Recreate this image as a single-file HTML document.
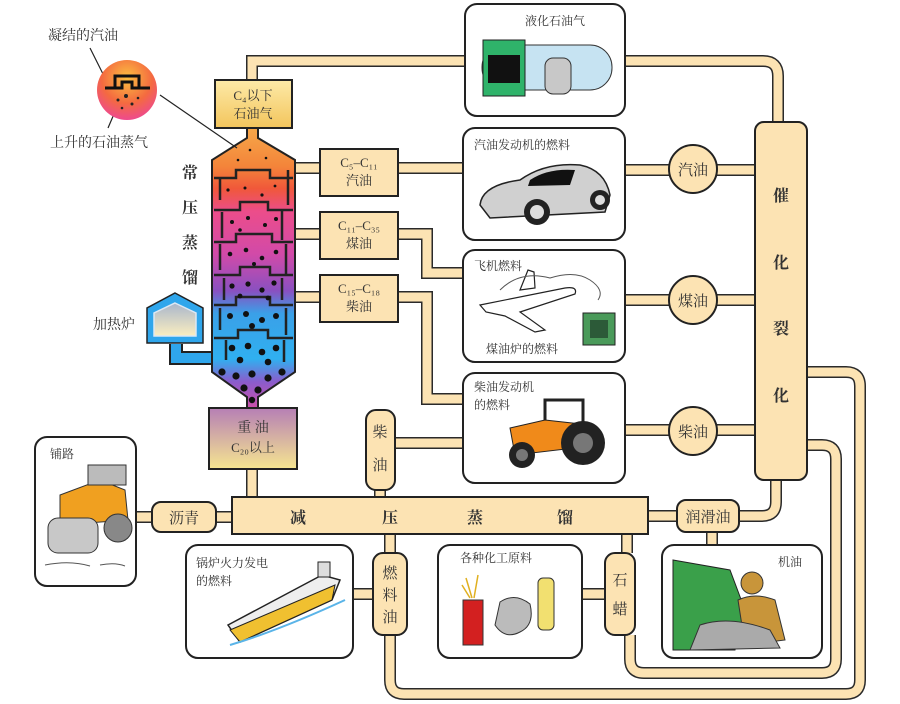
<!DOCTYPE html>
<html><head><meta charset="utf-8"><style>
html,body{margin:0;padding:0;background:#fff;}
svg{display:block;}
text{font-family:"Liberation Serif","Noto Serif CJK SC","Noto Sans CJK SC",serif;fill:#333;}
.b{font-family:"Liberation Sans","Noto Sans CJK SC",sans-serif;font-weight:bold;fill:#222;}
</style></head><body>
<svg width="900" height="704" viewBox="0 0 900 704" xmlns="http://www.w3.org/2000/svg">
<defs>
<linearGradient id="tw" x1="0" y1="0" x2="0" y2="1">
<stop offset="0" stop-color="#f6a94a"/><stop offset="0.14" stop-color="#f4853a"/>
<stop offset="0.22" stop-color="#f0583a"/><stop offset="0.3" stop-color="#ec4d8a"/>
<stop offset="0.45" stop-color="#d24aa8"/><stop offset="0.58" stop-color="#8a50c0"/>
<stop offset="0.66" stop-color="#3aa0e8"/><stop offset="0.82" stop-color="#30b0f0"/>
<stop offset="0.9" stop-color="#8a5ccc"/><stop offset="1" stop-color="#d050a8"/>
</linearGradient>
<linearGradient id="c4" x1="0" y1="0" x2="0" y2="1"><stop offset="0" stop-color="#fdeaa8"/><stop offset="1" stop-color="#f3c55c"/></linearGradient>
<linearGradient id="zy" x1="0" y1="0" x2="0" y2="1"><stop offset="0" stop-color="#b67fb5"/><stop offset="1" stop-color="#f6e690"/></linearGradient>
<linearGradient id="fur" x1="0" y1="0" x2="0" y2="1"><stop offset="0" stop-color="#a9b6cc"/><stop offset="1" stop-color="#fbeec0"/></linearGradient>
<radialGradient id="mag" cx="0.5" cy="0.3" r="0.7"><stop offset="0" stop-color="#fbc040"/><stop offset="0.6" stop-color="#f46a40"/><stop offset="1" stop-color="#ee4a8e"/></radialGradient>
</defs>

<!-- pipes outline -->
<g fill="none" stroke="#2a2a2a" stroke-width="12">
<path d="M252,80 V61 H465"/>
<path d="M625,61 H763 Q778,61 778,76 V122"/>
<path d="M295,168 H320 M398,168 H463"/>
<path d="M295,234 H320 M398,234 H427 V273 H463"/>
<path d="M295,297 H320 M398,297 H427 V399 H463"/>
<path d="M625,170 H755 M625,300 H755 M625,430 H755"/>
<path d="M776,480 V502 Q776,516 762,516 H739"/>
<path d="M807,372 H846 Q860,372 860,386 V680 Q860,694 846,694 H404 Q390,694 390,680 V635"/>
<path d="M807,445 H822 Q836,445 836,459 V659 Q836,673 822,673 H644 Q630,673 630,659 V635"/>
<path d="M252,469 V497"/>
<path d="M380,490 V497 M395,443 H463"/>
<path d="M390,534 V553 M373,594 H353"/>
<path d="M627,534 V553 M605,594 H582"/>
<path d="M136,517 H152 M216,517 H232"/>
<path d="M648,516 H677 M712,532 V545"/>
</g>
<g fill="none" stroke="#fce3b3" stroke-width="9">
<path d="M252,80 V61 H465"/>
<path d="M625,61 H763 Q778,61 778,76 V122"/>
<path d="M295,168 H320 M398,168 H463"/>
<path d="M295,234 H320 M398,234 H427 V273 H463"/>
<path d="M295,297 H320 M398,297 H427 V399 H463"/>
<path d="M625,170 H755 M625,300 H755 M625,430 H755"/>
<path d="M776,480 V502 Q776,516 762,516 H739"/>
<path d="M807,372 H846 Q860,372 860,386 V680 Q860,694 846,694 H404 Q390,694 390,680 V635"/>
<path d="M807,445 H822 Q836,445 836,459 V659 Q836,673 822,673 H644 Q630,673 630,659 V635"/>
<path d="M252,469 V497"/>
<path d="M380,490 V497 M395,443 H463"/>
<path d="M390,534 V553 M373,594 H353"/>
<path d="M627,534 V553 M605,594 H582"/>
<path d="M136,517 H152 M216,517 H232"/>
<path d="M648,516 H677 M712,532 V545"/>
</g>

<!-- furnace -->
<path d="M176,344 V358 H214" fill="none" stroke="#222" stroke-width="14"/>
<path d="M176,344 V358 H214" fill="none" stroke="#2fa6ec" stroke-width="10"/>
<polygon points="175,293 203,308 203,343 147,343 147,308" fill="#2fa6ec" stroke="#222" stroke-width="1.5"/>
<polygon points="175,303 196,313 196,336 154,336 154,313" fill="url(#fur)" stroke="#dce8f4" stroke-width="1.5"/>
<text x="93" y="329" font-size="14">加热炉</text>

<!-- tower -->
<polygon points="247,126 258,126 258,138 295,160 295,372 258,397 258,410 247,410 247,397 212,372 212,160 247,138" fill="url(#tw)" stroke="#222" stroke-width="2"/>
<g stroke="#222" stroke-width="2.5" fill="none">
<path d="M214,178 H236 V170 H270 V178 H293"/><path d="M220,178 V200 M288,170 V205"/>
<path d="M214,210 H240 V202 H268 V210 H293"/><path d="M222,212 V238 M282,210 V240"/>
<path d="M214,242 H236 V234 H272 V242 H293"/><path d="M220,244 V270 M286,244 V275"/>
<path d="M214,275 H240 V267 H270 V275 H293"/><path d="M224,278 V300 M282,278 V300"/>
<path d="M214,305 H236 V297 H270 V305 H293"/><path d="M220,308 V330 M286,308 V335"/>
<path d="M214,338 H238 V330 H268 V338 H293"/><path d="M226,340 V360 M284,340 V362"/>
</g>
<g fill="#111">
<circle cx="228" cy="190" r="1.6"/><circle cx="245" cy="188" r="1.5"/><circle cx="262" cy="195" r="1.6"/><circle cx="275" cy="186" r="1.4"/><circle cx="250" cy="150" r="1.3"/><circle cx="266" cy="158" r="1.3"/><circle cx="238" cy="160" r="1.3"/>
<circle cx="232" cy="222" r="2"/><circle cx="248" cy="218" r="2"/><circle cx="265" cy="225" r="2"/><circle cx="276" cy="219" r="2"/><circle cx="240" cy="230" r="1.8"/>
<circle cx="230" cy="254" r="2.3"/><circle cx="246" cy="250" r="2.3"/><circle cx="262" cy="258" r="2.3"/><circle cx="276" cy="252" r="2.3"/><circle cx="254" cy="264" r="2"/>
<circle cx="232" cy="286" r="2.6"/><circle cx="248" cy="284" r="2.6"/><circle cx="262" cy="290" r="2.6"/><circle cx="274" cy="283" r="2.6"/><circle cx="240" cy="296" r="2.4"/><circle cx="268" cy="298" r="2.4"/>
<circle cx="230" cy="316" r="3"/><circle cx="246" cy="314" r="3"/><circle cx="262" cy="320" r="3"/><circle cx="276" cy="316" r="3"/><circle cx="252" cy="326" r="3"/>
<circle cx="232" cy="348" r="3.3"/><circle cx="248" cy="346" r="3.3"/><circle cx="262" cy="352" r="3.3"/><circle cx="276" cy="348" r="3.3"/><circle cx="240" cy="360" r="3.3"/><circle cx="268" cy="362" r="3.3"/>
<circle cx="222" cy="372" r="3.6"/><circle cx="236" cy="376" r="3.6"/><circle cx="252" cy="374" r="3.6"/><circle cx="268" cy="378" r="3.6"/><circle cx="282" cy="372" r="3.6"/><circle cx="244" cy="388" r="3.6"/><circle cx="258" cy="390" r="3.6"/><circle cx="252" cy="400" r="3.2"/>
</g>
<g class="b" font-size="16"><text x="182" y="178">常</text><text x="182" y="213">压</text><text x="182" y="248">蒸</text><text x="182" y="283">馏</text></g>

<!-- magnifier -->
<line x1="160" y1="95" x2="237" y2="148" stroke="#222" stroke-width="1.2"/>
<line x1="90" y1="48" x2="106" y2="80" stroke="#222" stroke-width="1.2"/>
<line x1="108" y1="128" x2="120" y2="100" stroke="#222" stroke-width="1.2"/>
<circle cx="127" cy="90" r="30" fill="url(#mag)"/>
<path d="M105,88 H115 V76 H139 V88 H150 M115,88 H122 V82 H132 V88 H139" fill="none" stroke="#111" stroke-width="3"/>
<g fill="#222"><circle cx="118" cy="100" r="1.5"/><circle cx="126" cy="96" r="2"/><circle cx="132" cy="104" r="1.5"/><circle cx="122" cy="108" r="1.3"/><circle cx="138" cy="98" r="1.3"/></g>
<text x="48" y="40" font-size="14">凝结的汽油</text>
<text x="50" y="147" font-size="14">上升的石油蒸气</text>

<!-- C boxes -->
<rect x="215" y="80" width="77" height="48" fill="url(#c4)" stroke="#222" stroke-width="2"/>
<text x="253" y="100" font-size="13" text-anchor="middle">C₄以下</text>
<text x="253" y="118" font-size="13" text-anchor="middle">石油气</text>
<g fill="#fce3b3" stroke="#222" stroke-width="2">
<rect x="320" y="149" width="78" height="47"/><rect x="320" y="212" width="78" height="47"/><rect x="320" y="275" width="78" height="47"/>
</g>
<g font-size="13" text-anchor="middle">
<text x="359" y="167">C₅–C₁₁</text><text x="359" y="185">汽油</text>
<text x="359" y="230">C₁₁–C₃₅</text><text x="359" y="248">煤油</text>
<text x="359" y="293">C₁₅–C₁₈</text><text x="359" y="311">柴油</text>
</g>

<!-- heavy oil -->
<rect x="209" y="408" width="88" height="61" fill="url(#zy)" stroke="#222" stroke-width="2"/>
<text x="253" y="432" font-size="14" text-anchor="middle">重 油</text>
<text x="253" y="452" font-size="13" text-anchor="middle">C₂₀以上</text>

<!-- main vacuum pipe -->
<rect x="232" y="497" width="416" height="37" fill="#fce3b3" stroke="#222" stroke-width="2"/>
<g class="b" font-size="16"><text x="290" y="523">减</text><text x="382" y="523">压</text><text x="467" y="523">蒸</text><text x="557" y="523">馏</text></g>

<g fill="#fce3b3" stroke="#222" stroke-width="2">
<rect x="152" y="502" width="64" height="30" rx="9"/>
<rect x="366" y="410" width="29" height="80" rx="10"/>
<rect x="373" y="553" width="34" height="82" rx="10"/>
<rect x="605" y="553" width="30" height="82" rx="10"/>
<rect x="677" y="500" width="62" height="32" rx="9"/>
<rect x="755" y="122" width="52" height="358" rx="9"/>
<circle cx="693" cy="169" r="24"/><circle cx="693" cy="300" r="24"/><circle cx="693" cy="431" r="24"/>
</g>
<g font-size="15" text-anchor="middle">
<text x="184" y="523">沥青</text>
<text x="380" y="437">柴</text><text x="380" y="470">油</text>
<text x="390" y="578">燃</text><text x="390" y="600">料</text><text x="390" y="622">油</text>
<text x="620" y="585">石</text><text x="620" y="614">蜡</text>
<text x="708" y="522">润滑油</text>
<text x="693" y="175">汽油</text><text x="693" y="306">煤油</text><text x="693" y="437">柴油</text>
</g>
<g class="b" font-size="16" text-anchor="middle"><text x="781" y="201">催</text><text x="781" y="268">化</text><text x="781" y="334">裂</text><text x="781" y="401">化</text></g>

<!-- picture boxes -->
<g fill="#fff" stroke="#222" stroke-width="2">
<rect x="465" y="4" width="160" height="112" rx="12"/>
<rect x="463" y="128" width="162" height="112" rx="12"/>
<rect x="463" y="250" width="162" height="112" rx="12"/>
<rect x="463" y="373" width="162" height="110" rx="12"/>
<rect x="35" y="437" width="101" height="149" rx="12"/>
<rect x="186" y="545" width="167" height="113" rx="12"/>
<rect x="438" y="545" width="144" height="113" rx="12"/>
<rect x="662" y="545" width="160" height="113" rx="12"/>
</g>
<g font-size="12">
<text x="525" y="25">液化石油气</text>
<text x="474" y="149">汽油发动机的燃料</text>
<text x="474" y="270">飞机燃料</text>
<text x="486" y="353">煤油炉的燃料</text>
<text x="474" y="391">柴油发动机</text><text x="474" y="409">的燃料</text>
<text x="50" y="458">铺路</text>
<text x="196" y="567">锅炉火力发电</text><text x="196" y="585">的燃料</text>
<text x="460" y="562">各种化工原料</text>
<text x="778" y="566">机油</text>
</g>

<!-- LPG icon -->
<rect x="482" y="45" width="130" height="45" rx="22" fill="#c6e3f2" stroke="#333"/>
<rect x="483" y="40" width="42" height="56" fill="#2fb36a" stroke="#222"/>
<rect x="488" y="55" width="32" height="28" fill="#111"/>
<rect x="545" y="58" width="26" height="36" rx="8" fill="#c8c8c8" stroke="#333"/>
<!-- car -->
<path d="M480,205 Q482,185 520,180 Q545,162 580,165 Q605,170 610,195 L605,212 L490,218 Z" fill="#d0d0d0" stroke="#222" stroke-width="1.5"/>
<path d="M530,180 Q548,168 575,170 L570,185 L528,186 Z" fill="#111"/>
<circle cx="537" cy="212" r="13" fill="#222"/><circle cx="537" cy="212" r="7" fill="#ddd"/>
<circle cx="600" cy="200" r="10" fill="#222"/><circle cx="600" cy="200" r="5" fill="#ddd"/>
<!-- plane -->
<path d="M480,305 L565,288 Q578,286 575,294 L520,312 L545,330 L535,332 L505,316 L486,312 Z M520,290 L528,270 L534,272 L535,288 Z" fill="#fff" stroke="#222" stroke-width="1.2"/>
<path d="M500,290 Q520,270 550,278 Q575,270 590,280 Q605,290 598,300" fill="none" stroke="#555" stroke-width="1"/>
<rect x="583" y="313" width="32" height="32" fill="#4a9a5a" stroke="#222"/>
<rect x="590" y="320" width="18" height="18" fill="#2c5a38"/>
<!-- tractor -->
<rect x="545" y="400" width="38" height="32" fill="none" stroke="#222" stroke-width="3"/>
<path d="M510,428 L545,420 L590,425 L600,445 L515,455 Z" fill="#f08a1a" stroke="#222"/>
<circle cx="583" cy="443" r="22" fill="#222"/><circle cx="583" cy="443" r="10" fill="#777"/>
<circle cx="522" cy="455" r="13" fill="#222"/><circle cx="522" cy="455" r="6" fill="#777"/>
<!-- roller -->
<path d="M60,495 L100,480 L125,490 L128,520 L60,525 Z" fill="#f0a020" stroke="#333"/>
<rect x="88" y="465" width="38" height="20" fill="#bbb" stroke="#333"/>
<rect x="48" y="518" width="50" height="35" rx="10" fill="#c8c8c8" stroke="#333"/>
<circle cx="118" cy="528" r="14" fill="#888" stroke="#333"/>
<path d="M45,565 Q70,560 90,566 M100,565 Q115,562 125,566" stroke="#555" fill="none"/>
<!-- ship -->
<path d="M228,625 L322,575 L340,580 L332,600 L240,642 Z" fill="#eee" stroke="#222" stroke-width="1.5"/>
<path d="M230,630 L335,585 L332,600 L240,642 Z" fill="#f0c030" stroke="#222"/>
<rect x="318" y="562" width="12" height="15" fill="#ddd" stroke="#222"/>
<path d="M230,645 Q280,630 345,600" stroke="#5ab4e8" stroke-width="2" fill="none"/>
<!-- chem -->
<rect x="463" y="600" width="20" height="45" fill="#d32020" stroke="#333"/>
<path d="M472,598 L466,578 M474,598 L478,575 M470,598 L462,585" stroke="#e0b020" stroke-width="1.5"/>
<path d="M500,602 Q515,592 530,604 Q535,625 520,632 Q505,640 495,625 Z" fill="#bbb" stroke="#333"/>
<rect x="538" y="578" width="16" height="52" rx="5" fill="#f2e070" stroke="#333"/>
<!-- worker -->
<path d="M673,560 L730,570 L745,610 L735,650 L673,650 Z" fill="#3aa04a" stroke="#222"/>
<circle cx="752" cy="583" r="11" fill="#c8953a" stroke="#333"/>
<path d="M738,600 Q755,592 775,600 L785,640 L745,645 Z" fill="#c8953a" stroke="#333"/>
<path d="M700,625 Q730,615 770,630 L780,648 L690,650 Z" fill="#aaa" stroke="#333"/>
</svg>
</body></html>
